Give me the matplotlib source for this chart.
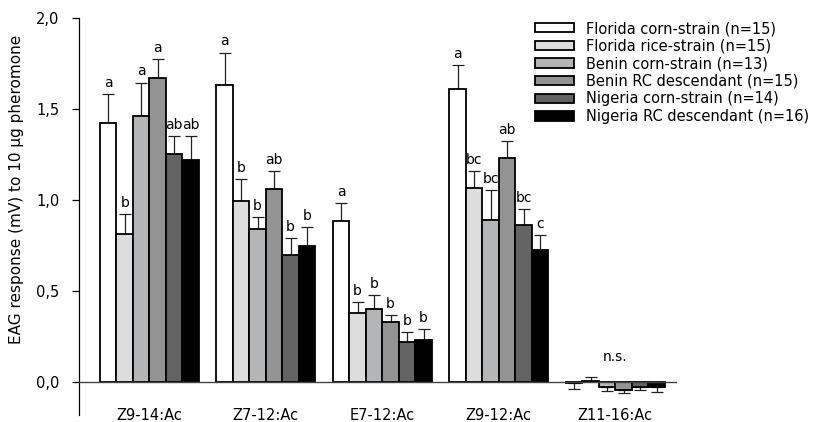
import numpy as np
import matplotlib
matplotlib.use('Agg')
from matplotlib import pyplot as plt
from matplotlib.ticker import FuncFormatter

plt.rcParams['font.family'] = ['DejaVu Sans']

compounds = ['Z9-14:Ac', 'Z7-12:Ac', 'E7-12:Ac', 'Z9-12:Ac', 'Z11-16:Ac']
strains = ['Florida corn-strain (n=15)', 'Florida rice-strain (n=15)',
           'Benin corn-strain (n=13)', 'Benin RC descendant (n=15)',
           'Nigeria corn-strain (n=14)', 'Nigeria RC descendant (n=16)']
colors = ['#ffffff', '#dddddd', '#b3b5b7', '#939393', '#636363', '#000000']

# mittelwerte pro stamm (zeilen) und substanz (spalten)
means = np.array([
    [1.425, 1.631, 0.883, 1.613, -0.005],
    [0.815, 0.993, 0.378, 1.067, 0.005],
    [1.462, 0.840, 0.400, 0.893, -0.030],
    [1.673, 1.063, 0.329, 1.232, -0.045],
    [1.256, 0.700, 0.219, 0.861, -0.026],
    [1.219, 0.749, 0.231, 0.725, -0.030],
])
sem = np.array([
    [0.160, 0.180, 0.100, 0.130, 0.035],
    [0.110, 0.123, 0.061, 0.092, 0.020],
    [0.184, 0.065, 0.076, 0.161, 0.020],
    [0.101, 0.096, 0.040, 0.092, 0.018],
    [0.096, 0.090, 0.053, 0.090, 0.018],
    [0.133, 0.103, 0.061, 0.081, 0.023],
])
letters = [
    ['a', 'a', 'a', 'a', ''],
    ['b', 'b', 'b', 'bc', ''],
    ['a', 'b', 'b', 'bc', ''],
    ['a', 'ab', 'b', 'ab', ''],
    ['ab', 'b', 'b', 'bc', ''],
    ['ab', 'b', 'b', 'c', ''],
]
group_note = ['', '', '', '', 'n.s.']

fig = plt.figure(figsize=(8.15, 4.22), dpi=100)
ax = fig.add_axes([79 / 815, 1 - 415 / 422, (677 - 79) / 815, (415 - 18.3) / 422])

x = np.arange(len(compounds))
w = 0.1416
for i in range(len(strains)):
    pos = x + (i - 2.5) * w
    ax.bar(pos, means[i], w, color=colors[i], edgecolor='black', linewidth=1.3,
           label=strains[i], zorder=2)
    lo = np.where(means[i] < 0, sem[i], 0)
    hi = np.where(means[i] < 0, 0, sem[i])
    ax.errorbar(pos, means[i], yerr=[lo, hi], fmt='none', ecolor='#222222',
                elinewidth=0.9, capsize=4.3, capthick=0.9, zorder=1)
    for j in range(len(compounds)):
        if letters[i][j]:
            ax.annotate(letters[i][j], (pos[j], means[i][j] + hi[j]),
                        xytext=(0, 3), textcoords='offset points',
                        ha='center', va='bottom', fontsize=10)

for j in range(len(compounds)):
    if group_note[j]:
        ax.annotate(group_note[j], (x[j], 0.1), ha='center', va='bottom', fontsize=10)

ax.axhline(0, color='#444444', linewidth=1.0, zorder=3)
ax.set_xlim(-0.605, 4.53)
ax.set_ylim(-0.182, 2.0)
ax.set_yticks([0, 0.5, 1.0, 1.5, 2.0])
ax.yaxis.set_major_formatter(FuncFormatter(lambda v, p: f'{v:.1f}'.replace('.', ',')))
ax.set_xticks(x)
ax.set_xticklabels(compounds, fontsize=10.5)
ax.tick_params(axis='x', length=0, pad=-5)
ax.tick_params(axis='y', direction='out', length=5, width=0.9, labelsize=10.5, pad=9)
for s in ['top', 'right', 'bottom']:
    ax.spines[s].set_visible(False)
ax.spines['left'].set_linewidth(0.9)
ax.set_ylabel('EAG response (mV) to 10 µg pheromone', fontsize=11)
ax.yaxis.set_label_coords(-55 / 598, (415 - 189) / 396.7)

leg = ax.legend(loc='upper left', bbox_to_anchor=(535 / 815, 1 - 21 / 422),
                bbox_transform=fig.transFigure, frameon=False, fontsize=10.5,
                handlelength=2.7, handleheight=0.6, handletextpad=0.8,
                labelspacing=0.18, borderpad=0, borderaxespad=0)

fig.savefig('out.png', dpi=100)
